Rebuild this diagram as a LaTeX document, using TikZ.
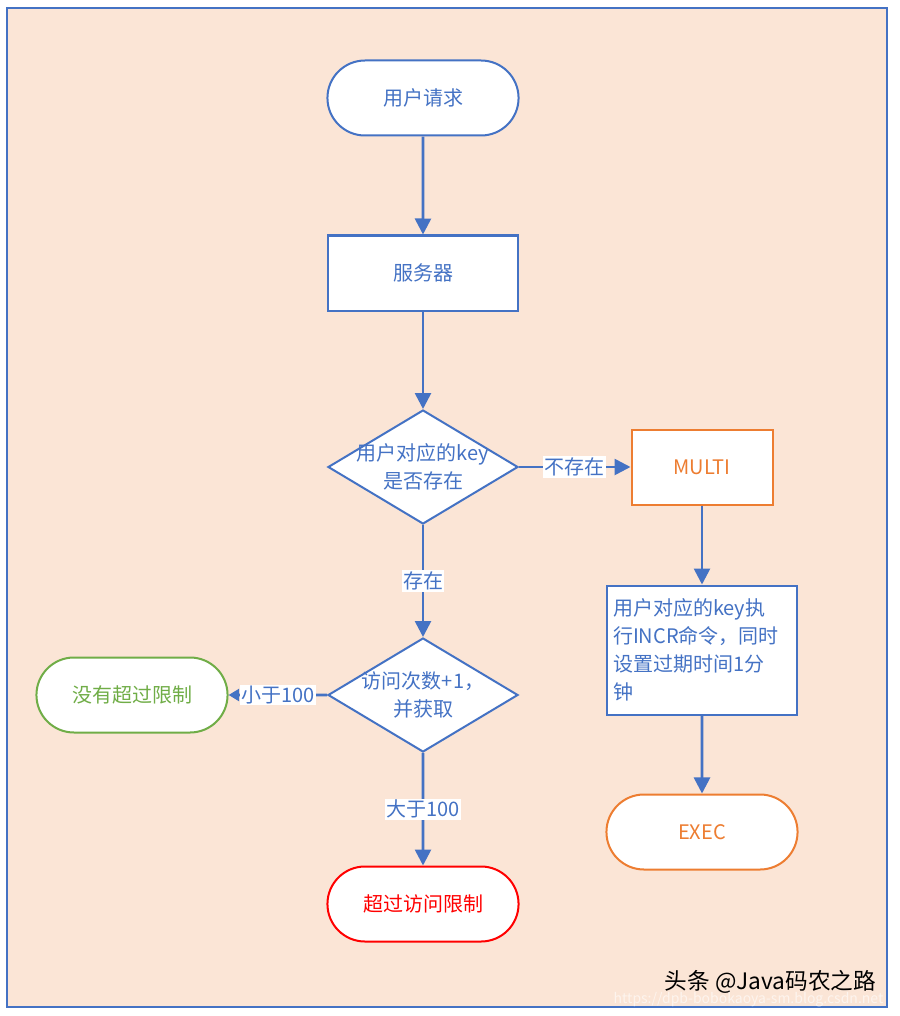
\documentclass[tikz,border=0pt]{standalone}
\usepackage{fontspec}
\setmainfont{Noto Sans CJK SC}
\usetikzlibrary{shapes.geometric,shapes.misc,arrows.meta}
\definecolor{bgpeach}{HTML}{FBE5D6}
\definecolor{flowblue}{HTML}{4472C4}
\definecolor{floworange}{HTML}{ED7D31}
\definecolor{flowgreen}{HTML}{70AD47}
\definecolor{flowred}{HTML}{FF0000}
\newcommand{\flowfont}{\fontsize{15pt}{21pt}\selectfont}
\tikzset{
  box/.style={draw=flowblue,line width=1.5pt,fill=white,text=flowblue,font=\flowfont},
  terminal/.style={box,rounded rectangle,minimum width=150pt,minimum height=56.25pt},
  process/.style={box,rectangle,minimum width=142.5pt,minimum height=56.25pt},
  decision/.style={box,diamond,minimum width=142.5pt,minimum height=85.5pt,inner sep=0pt},
  decisiontext/.style={text=flowblue,font=\flowfont,align=center},
  flow/.style={draw=flowblue,line width=2pt,-{Triangle[length=12pt,width=12pt]}},
  smallflow/.style={flow,-{Triangle[length=8pt,width=9pt]}}
}
\begin{document}
\begin{tikzpicture}[x=0.75pt,y=-0.75pt]
  \useasboundingbox (0,0) rectangle (899,1016);
  \draw[draw=flowblue,line width=2pt,fill=bgpeach] (7,8) rectangle (887,1007);

  \node[terminal] (request) at (423,98) {用户请求};
  \node[process] (server) at (423,273) {服务器};
  \node[decision,label={[decisiontext]center:用户对应的key\\是否存在}] (keycheck) at (423,467) {};
  \node[process,draw=floworange,text=floworange,minimum width=105.75pt] (multi) at (702,467) {MULTI};
  \node[process,minimum height=96.75pt,text width=133.5pt,inner xsep=4.5pt,align=left] (incr) at (702,650)
    {用户对应的key执\\行INCR命令，同时\\设置过期时间1分\\钟};
  \node[terminal,draw=floworange,text=floworange] (exec) at (702,832) {EXEC};
  \node[decision,label={[decisiontext]center:访问次数+1，\\并获取}] (count) at (423,695) {};
  \node[terminal,draw=flowgreen,text=flowgreen] (notover) at (132,695) {没有超过限制};
  \node[terminal,draw=flowred,text=flowred] (over) at (423,904) {超过访问限制};

  \begin{scope}[every node/.style={midway,fill=white,text=flowblue,inner sep=1pt,font=\flowfont}]
    \draw[flow] (request) -- (server);
    \draw[flow] (server) -- (keycheck);
    \draw[flow] (keycheck) -- node {不存在} (multi);
    \draw[flow] (multi) -- (incr);
    \draw[flow] (incr) -- (exec);
    \draw[flow] (keycheck) -- node {存在} (count);
    \draw[smallflow] (count) -- node {小于100} (notover);
    \draw[flow] (count) -- node {大于100} (over);
  \end{scope}

  \node[anchor=east,font=\fontsize{17pt}{19pt}\selectfont] (mark) at (881,982) {头条 @Java码农之路};
  \node[text=white,opacity=0.6,anchor=east,font=\fontsize{10.5pt}{12pt}\selectfont] (url) at (888,1000) {https://dpb-bobokaoya-sm.blog.csdn.net};
\end{tikzpicture}
\end{document}
